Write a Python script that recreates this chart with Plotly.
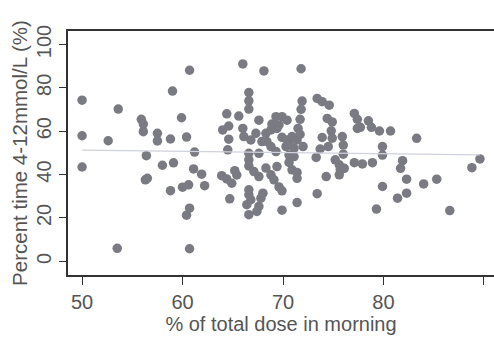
import numpy as np
import plotly.graph_objects as go

# % of total daily dose given in the morning
dose_morning = [
    50.0, 50.0, 50.0, 52.6, 53.6, 53.5, 55.9, 56.1, 56.1, 56.4,
    56.3, 56.5, 57.5, 57.5, 58.8, 59.0, 58.0, 59.1, 58.8, 59.9,
    60.4, 60.7, 61.2, 61.1, 61.9, 62.2, 60.0, 60.6, 60.7, 60.4,
    60.7, 64.0, 64.6, 64.6, 64.5, 64.4, 65.6, 63.9, 64.4, 64.9,
    65.2, 65.4, 64.7, 66.0, 66.6, 66.6, 66.6, 66.0, 66.1, 66.8,
    67.3, 67.6, 67.9, 68.3, 66.6, 66.6, 66.6, 67.1, 67.6, 67.6,
    66.6, 66.6, 66.8, 66.4, 67.6, 67.4, 66.6, 68.0, 67.8, 68.1,
    68.3, 68.9, 69.3, 69.9, 70.4, 68.8, 69.4, 69.6, 69.9, 68.4,
    68.8, 69.3, 68.8, 69.1, 69.6, 69.9, 69.4, 69.9, 70.6, 70.6,
    71.1, 70.3, 70.6, 71.1, 70.4, 70.9, 71.4, 71.7, 71.5, 71.7,
    71.9, 71.8, 71.8, 72.0, 70.9, 71.4, 71.4, 71.4, 73.4, 73.4,
    73.9, 74.6, 74.4, 74.9, 74.8, 74.9, 73.9, 73.7, 74.5, 73.3,
    75.2, 75.6, 75.6, 75.7, 74.3, 75.9, 76.0, 76.0, 76.1, 77.1,
    77.4, 77.4, 77.7, 78.5, 78.8, 79.6, 80.7, 83.3, 79.9, 79.9,
    77.1, 77.9, 78.9, 81.9, 81.7, 82.3, 79.9, 82.3, 81.4, 84.0,
    85.3, 79.3, 86.6, 88.8, 89.6,
]

# Percent of time spent with glucose 4-12 mmol/L
time_in_range = [
    74.3, 57.9, 43.5, 55.6, 70.2, 6.0, 65.5, 63.3, 59.8, 48.7,
    37.6, 38.3, 59.0, 55.5, 56.4, 78.5, 44.3, 45.4, 32.6, 66.2,
    57.3, 88.1, 50.4, 42.6, 40.2, 34.9, 34.2, 35.3, 24.5, 21.3,
    5.8, 60.6, 62.4, 56.3, 51.4, 68.0, 67.0, 39.5, 38.0, 36.0,
    41.8, 39.8, 28.8, 91.0, 77.8, 74.0, 70.2, 61.3, 57.5, 56.0,
    59.0, 65.1, 55.2, 59.0, 49.8, 46.8, 44.0, 41.4, 49.8, 39.1,
    33.0, 30.7, 28.4, 26.1, 25.3, 23.0, 21.5, 31.4, 29.1, 87.8,
    43.0, 63.3, 66.7, 66.7, 65.1, 60.6, 61.3, 62.9, 57.2, 55.2,
    52.9, 50.6, 39.9, 37.6, 34.3, 32.5, 43.7, 23.6, 45.6, 49.0,
    48.3, 52.9, 54.4, 52.1, 56.0, 57.5, 56.0, 65.5, 61.3, 58.5,
    73.9, 70.1, 88.8, 52.9, 42.2, 41.0, 38.3, 27.1, 31.2, 75.1,
    73.6, 72.0, 65.9, 64.3, 60.2, 56.8, 57.1, 51.8, 52.9, 47.9,
    46.8, 44.5, 39.9, 42.2, 39.1, 57.5, 53.6, 49.4, 42.9, 68.2,
    65.5, 61.3, 61.8, 64.8, 61.8, 60.1, 60.1, 56.7, 52.9, 49.0,
    45.5, 44.9, 45.5, 46.4, 42.9, 37.9, 34.5, 31.4, 29.1, 35.7,
    37.9, 24.1, 23.4, 43.2, 47.2,
]

x_ticks = [50, 60, 70, 80, 90]
y_ticks = [0, 20, 40, 60, 80, 100]

x_arr = np.array(dose_morning)
y_arr = np.array(time_in_range)

# Least-squares linear fit drawn across the observed dose range
slope, intercept = np.polyfit(x_arr, y_arr, 1)
fit_x = np.array([x_arr.min(), x_arr.max()])
fit_y = slope * fit_x + intercept

text_col = "#555555"
axis_col = "#333333"
font_family = "Liberation Sans, Arial, sans-serif"

fig = go.Figure()

fig.add_trace(go.Scatter(
    x=x_arr, y=y_arr, mode="markers",
    marker=dict(size=9.5, color="#7a7a82", line=dict(width=0)),
    showlegend=False, hoverinfo="x+y",
))

fig.add_trace(go.Scatter(
    x=fit_x, y=fit_y, mode="lines",
    line=dict(color="#cfd1dc", width=1.2),
    showlegend=False, hoverinfo="skip",
))

fig.update_layout(
    width=494, height=339,
    margin=dict(l=68, r=0, t=31, b=64),
    paper_bgcolor="white", plot_bgcolor="white",
    font=dict(family=font_family, size=20, color=text_col),
    xaxis=dict(
        range=[48.6, 91.0],
        tickvals=x_ticks, ticktext=[str(v) for v in x_ticks],
        showgrid=False, zeroline=False,
        showline=True, linecolor=axis_col, linewidth=1.5, mirror=True,
        ticks="outside", ticklen=8, tickwidth=1.2, tickcolor=axis_col,
        tickfont=dict(size=20, color=text_col),
        title=dict(text="% of total dose in morning",
                   font=dict(size=20, color=text_col), standoff=2),
    ),
    yaxis=dict(
        range=[-6.3, 106.2],
        tickvals=y_ticks, ticktext=[str(v) for v in y_ticks],
        tickangle=-90,
        showgrid=False, zeroline=False,
        showline=True, linecolor=axis_col, linewidth=1.5,
        ticks="outside", ticklen=7, tickwidth=1.2, tickcolor=axis_col,
        tickfont=dict(size=20, color=text_col),
        title=dict(text="Percent time 4-12mmol/L (%)",
                   font=dict(size=20.5, color=text_col), standoff=0),
    ),
)

fig.write_html("out.html")
